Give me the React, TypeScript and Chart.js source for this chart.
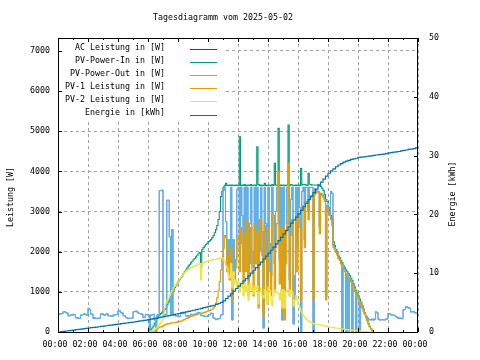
import { useEffect, useRef } from "react";
import { Chart, registerables } from "chart.js";

Chart.register(...registerables);

const FONT_FAMILY = "DejaVu Sans Mono";
const FONT_SIZE = 8.3;
const TITLE = "Tagesdiagramm vom 2025-05-02";
const Y_TITLE = "Leistung [W]";
const Y2_TITLE = "Energie [kWh]";

// power samples every 5 minutes (00:00..24:00), energy samples every 10 minutes
const POWER_STEP_MIN = 5;
const ENERGY_STEP_MIN = 10;
// PV-In / PV-1 / PV-2 are only recorded from 06:00 to 21:00
const PV_START_MIN = 6 * 60;

const xTicks = [0, 2, 4, 6, 8, 10, 12, 14, 16, 18, 20, 22, 24];
const xTickLabels = ["00:00", "02:00", "04:00", "06:00", "08:00", "10:00", "12:00", "14:00", "16:00", "18:00", "20:00", "22:00", "00:00"];
const leftTicks = [0, 1000, 2000, 3000, 4000, 5000, 6000, 7000];
const rightTicks = [0, 10, 20, 30, 40, 50];
const LEFT_MAX = 7320;
const RIGHT_MAX = 50;

const seriesNames = ["AC Leistung in [W]", "PV-Power-In in [W]", "PV-Power-Out in [W]", "PV-1 Leistung in [W]", "PV-2 Leistung in [W]", "Energie in [kWh]"];
const seriesColors = ["#9400d3", "#009e73", "#56b4e9", "#e69f00", "#f0e442", "#0072b2"];

// one row = one hour (12 samples of 5 min)
const acPower = [
  450, 440, 450, 460, 500, 510, 480, 470, 400, 410, 430, 420,
  440, 430, 350, 360, 340, 340, 420, 430, 440, 450, 430, 420,
  590, 560, 450, 440, 340, 350, 340, 340, 340, 350, 450, 460,
  430, 420, 440, 450, 400, 410, 400, 390, 420, 430, 430, 440,
  520, 530, 480, 470, 410, 400, 360, 350, 340, 340, 340, 350,
  500, 510, 520, 500, 470, 460, 450, 440, 360, 370, 440, 430,
  420, 0, 420, 430, 440, 300, 0, 420, 430, 3520, 3520, 3540,
  420, 430, 440, 3280, 3280, 2370, 450, 2550, 440, 420, 400, 410,
  380, 390, 470, 460, 470, 480, 400, 410, 390, 400, 440, 430,
  430, 440, 460, 470, 480, 470, 420, 410, 400, 390, 380, 390,
  420, 430, 470, 460, 350, 340, 310, 320, 330, 340, 420, 430,
  3530, 3600, 2750, 1700, 2300, 1500, 3600, 300, 2300, 1250, 1800, 3550,
  3600, 2100, 3600, 2900, 1500, 3600, 2200, 3600, 1300, 2700, 3600, 2000,
  1600, 3600, 2300, 3600, 1000, 2800, 3600, 2500, 100, 3600, 2700, 1200,
  3600, 2200, 1400, 3600, 2900, 1700, 3000, 3600, 3600, 1800, 3600, 300,
  3600, 700, 2500, 3600, 3600, 1300, 3300, 3600, 200, 1400, 3600, 2100,
  3600, 3100, 0, 3500, 3600, 2300, 3600, 3600, 3000, 3600, 3600, 3600,
  0, 3560, 3530, 3500, 3500, 2620, 3450, 3420, 3380, 3300, 880, 3150,
  3000, 2900, 3500, 3450, 2150, 2100, 2000, 1950, 1850, 1800, 1700, 0,
  1600, 1550, 0, 1450, 0, 1350, 1300, 0, 1150, 1080, 0, 940,
  870, 0, 720, 650, 560, 470, 400, 350, 320, 310, 300, 320,
  300, 320, 500, 480, 320, 300, 300, 310, 300, 300, 320, 330,
  460, 450, 430, 420, 420, 410, 380, 370, 340, 350, 340, 330,
  550, 560, 630, 620, 600, 590, 500, 510, 500, 490, 470, 470,
  470,
];

const pvPowerOut = [
  450, 440, 450, 460, 500, 510, 480, 470, 400, 410, 430, 420,
  440, 430, 350, 360, 340, 340, 420, 430, 440, 450, 430, 420,
  590, 560, 450, 440, 340, 350, 340, 340, 340, 350, 450, 460,
  430, 420, 440, 450, 400, 410, 400, 390, 420, 430, 430, 440,
  520, 530, 480, 470, 410, 400, 360, 350, 340, 340, 340, 350,
  500, 510, 520, 500, 470, 460, 450, 440, 360, 370, 440, 430,
  420, 0, 420, 430, 440, 300, 0, 420, 430, 3520, 3520, 3520,
  420, 430, 440, 3280, 3280, 2370, 450, 2550, 440, 420, 400, 410,
  380, 390, 470, 460, 470, 480, 400, 410, 390, 400, 440, 430,
  430, 440, 460, 470, 480, 470, 420, 410, 400, 390, 380, 390,
  420, 430, 470, 460, 350, 340, 310, 320, 330, 340, 420, 430,
  3530, 3600, 2750, 1700, 2300, 1500, 3600, 300, 2300, 1250, 1800, 3550,
  3600, 2100, 3600, 2900, 1500, 3600, 2200, 3600, 1300, 2700, 3600, 2000,
  1600, 3600, 2300, 3600, 1000, 2800, 3600, 2500, 100, 3600, 2700, 1200,
  3600, 2200, 1400, 3600, 2900, 1700, 3000, 3600, 3600, 1800, 3600, 300,
  3600, 700, 2500, 3600, 3600, 1300, 3300, 3600, 200, 1400, 3600, 2100,
  3600, 3100, 0, 3500, 3600, 2300, 3600, 3600, 3000, 3600, 3600, 3600,
  0, 3560, 3530, 3500, 3500, 2620, 3450, 3420, 3380, 3300, 880, 3150,
  3000, 2900, 3500, 3450, 2150, 2100, 2000, 1950, 1850, 1800, 1700, 0,
  1600, 1550, 0, 1450, 0, 1350, 1300, 0, 1150, 1080, 0, 940,
  870, 0, 720, 650, 560, 470, 400, 350, 320, 310, 300, 320,
  300, 320, 500, 480, 320, 300, 300, 310, 300, 300, 320, 330,
  460, 450, 430, 420, 420, 410, 380, 370, 340, 350, 340, 330,
  550, 560, 630, 620, 600, 590, 500, 510, 500, 490, 470, 470,
  470,
];

// 06:00 .. 21:00
const pvPowerIn = [
  0, 20, 60, 100, 150, 220, 280, 340, 400, 430, 460, 490,
  520, 560, 600, 680, 750, 820, 900, 970, 1040, 1100, 1150, 1200,
  1260, 1300, 1350, 1400, 1450, 1500, 1540, 1590, 1640, 1680, 1720, 1760,
  1800, 1830, 1870, 1910, 1950, 1980, 1620, 2050, 2100, 2140, 2180, 2210,
  2250, 2270, 2300, 2350, 2400, 2470, 2550, 2650, 2800, 3000, 3370, 3500,
  3600, 3650, 3700, 3650, 3640, 3660, 3650, 3660, 3640, 3650, 3660, 3650,
  3650, 4860, 3640, 3660, 3650, 3670, 3640, 3650, 3660, 3650, 3670, 3640,
  3650, 3660, 3640, 4610, 3670, 3650, 3660, 3640, 3650, 3700, 3650, 3640,
  3660, 3650, 3640, 3670, 3650, 4200, 3660, 3650, 5070, 3640, 3660, 3650,
  3660, 3640, 3650, 3660, 5150, 3650, 3670, 3660, 3640, 3650, 3660, 3650,
  3660, 3650, 4070, 3660, 3680, 3670, 3660, 3650, 3950, 3680, 3670, 3660,
  3660, 3660, 3660, 3660, 3670, 3640, 3620, 3580, 3520, 3420, 3300, 3250,
  3100, 3000, 2900, 2800, 2250, 2150, 2050, 2000, 1900, 1850, 1780, 1720,
  1650, 1600, 1550, 1500, 1450, 1400, 1340, 1280, 1200, 1120, 1040, 970,
  900, 820, 740, 660, 570, 480, 390, 300, 210, 140, 80, 40,
  0,
];

const pv1Power = [
  0, 0, 5, 10, 20, 40, 60, 80, 110, 120, 130, 140,
  160, 170, 190, 200, 210, 210, 220, 225, 230, 235, 240, 245,
  255, 260, 270, 280, 300, 310, 330, 345, 360, 375, 390, 400,
  410, 420, 430, 440, 450, 455, 460, 470, 480, 490, 500, 510,
  530, 540, 550, 560, 600, 640, 720, 850, 1040, 1250, 1540, 1800,
  2080, 2400, 2350, 1500, 1900, 1300, 2100, 800, 1500, 1400, 1600, 2300,
  2400, 1500, 2600, 2200, 1100, 2450, 1500, 2800, 900, 1700, 2600, 1500,
  900, 2700, 1700, 2500, 600, 2000, 2800, 1900, 400, 2650, 1900, 700,
  2600, 1500, 900, 2950, 2100, 1000, 2100, 2700, 3990, 1200, 2600, 500,
  2600, 300, 1700, 2700, 4200, 900, 2400, 2800, 700, 800, 2800, 1500,
  2950, 2600, 800, 3050, 3150, 2100, 3200, 3250, 2800, 3300, 3350, 3400,
  800, 3420, 3450, 3480, 3490, 2450, 3450, 3400, 3350, 3250, 800, 3100,
  3000, 2900, 2800, 2650, 2100, 2050, 1980, 1920, 1830, 1780, 1700, 1650,
  1550, 1500, 1450, 1400, 1350, 1300, 1250, 1180, 1100, 1030, 960, 890,
  820, 750, 680, 600, 520, 440, 360, 280, 200, 130, 70, 30,
  0,
];

const pv2Power = [
  0, 0, 10, 20, 40, 60, 90, 120, 160, 200, 240, 280,
  450, 600, 720, 790, 850, 910, 980, 1040, 1100, 1140, 1180, 1220,
  1270, 1320, 1370, 1410, 1450, 1480, 1510, 1540, 1560, 1580, 1600, 1610,
  1630, 1645, 1660, 1675, 1690, 1700, 1300, 1710, 1725, 1740, 1755, 1765,
  1770, 1780, 1790, 1795, 1800, 1805, 1810, 1815, 1830, 1835, 1840, 1845,
  1800, 1750, 1650, 1600, 1400, 1350, 1700, 1100, 1500, 1200, 1300, 1100,
  1250, 1000, 1150, 1250, 900, 1200, 1000, 1150, 800, 1200, 1050, 1100,
  950, 1150, 1050, 1150, 700, 1000, 1100, 900, 850, 1050, 1000, 700,
  1100, 1050, 800, 650, 900, 1050, 1000, 1000, 950, 800, 1050, 600,
  1050, 600, 1000, 1050, 1050, 900, 1050, 1000, 650, 800, 900, 800,
  700, 600, 520, 460, 400, 360, 330, 300, 280, 260, 240, 220,
  200, 195, 190, 185, 180, 175, 170, 165, 160, 150, 145, 140,
  130, 125, 120, 115, 110, 105, 100, 95, 90, 85, 80, 75,
  70, 65, 60, 60, 55, 50, 50, 45, 40, 40, 35, 35,
  30, 30, 25, 25, 20, 15, 10, 10, 5, 0, 0, 0,
  0,
];

// one row = one hour (6 samples of 10 min)
const energyKWh = [
  0, 0.06, 0.11, 0.17, 0.22, 0.28,
  0.33, 0.39, 0.45, 0.5, 0.56, 0.62,
  0.68, 0.73, 0.78, 0.84, 0.89, 0.95,
  1.0, 1.06, 1.12, 1.18, 1.24, 1.3,
  1.35, 1.41, 1.47, 1.53, 1.58, 1.64,
  1.7, 1.77, 1.84, 1.9, 1.97, 2.03,
  2.1, 2.18, 2.27, 2.35, 2.43, 2.52,
  2.6, 2.69, 2.78, 2.88, 2.97, 3.06,
  3.15, 3.24, 3.33, 3.42, 3.52, 3.61,
  3.7, 3.8, 3.91, 4.02, 4.13, 4.24,
  4.35, 4.45, 4.55, 4.7, 4.85, 5.05,
  5.3, 5.7, 6.1, 6.5, 6.95, 7.4,
  7.8, 8.25, 8.7, 9.1, 9.55, 10.0,
  10.5, 10.95, 11.4, 11.9, 12.4, 12.9,
  13.4, 13.9, 14.45, 15.0, 15.55, 16.1,
  16.7, 17.3, 17.9, 18.5, 19.05, 19.55,
  20.1, 20.7, 21.3, 21.9, 22.5, 23.1,
  23.7, 24.3, 24.9, 25.5, 26.0, 26.5,
  27.0, 27.4, 27.75, 28.1, 28.4, 28.65,
  28.9, 29.05, 29.2, 29.35, 29.45, 29.55,
  29.7, 29.75, 29.8, 29.85, 29.9, 29.95,
  30.05, 30.1, 30.15, 30.2, 30.25, 30.35,
  30.45, 30.5, 30.6, 30.65, 30.7, 30.8,
  30.9, 30.95, 31.05, 31.1, 31.2, 31.3,
  31.4,
];

type Series = { values: (number | null)[]; startMin: number; stepMin: number; axis: string; width: number; order: number };

const seriesDefs: Series[] = [
  { values: acPower, startMin: 0, stepMin: POWER_STEP_MIN, axis: "y", width: 0.6, order: 6 },
  { values: pvPowerIn, startMin: PV_START_MIN, stepMin: POWER_STEP_MIN, axis: "y", width: 1.1, order: 5 },
  { values: pvPowerOut, startMin: 0, stepMin: POWER_STEP_MIN, axis: "y", width: 1.2, order: 4 },
  { values: pv1Power, startMin: PV_START_MIN, stepMin: POWER_STEP_MIN, axis: "y", width: 1.2, order: 3 },
  { values: pv2Power, startMin: PV_START_MIN, stepMin: POWER_STEP_MIN, axis: "y", width: 1.2, order: 2 },
  { values: energyKWh, startMin: 0, stepMin: ENERGY_STEP_MIN, axis: "y2", width: 1.2, order: 1 },
];

const setFont = (ctx: CanvasRenderingContext2D) => {
  ctx.font = `${FONT_SIZE}px "${FONT_FAMILY}"`;
};

const decorPlugin = {
  id: "decor",
  afterDatasetsDraw(chart: any) {
    const ctx: CanvasRenderingContext2D = chart.ctx;
    const area = chart.chartArea;
    const xs = chart.scales.x;
    const ys = chart.scales.y;
    const y2s = chart.scales.y2;
    ctx.save();

    // legend (opaque box inside the plot, top left)
    ctx.fillStyle = "#ffffff";
    ctx.fillRect(area.left + 1, area.top + 1, 166, 80);
    setFont(ctx);
    ctx.textAlign = "right";
    ctx.textBaseline = "middle";
    seriesNames.forEach((name, k) => {
      const y = area.top + 11 + k * 13.1;
      ctx.fillStyle = "#000000";
      ctx.fillText(name, 165, y - 1.5);
      ctx.strokeStyle = seriesColors[k];
      ctx.lineWidth = 1;
      ctx.beginPath();
      ctx.moveTo(190, Math.round(y) + 0.5);
      ctx.lineTo(217, Math.round(y) + 0.5);
      ctx.stroke();
    });

    // frame
    ctx.strokeStyle = "#000000";
    ctx.lineWidth = 1;
    ctx.strokeRect(area.left + 0.5, area.top + 0.5, area.right - area.left - 1, area.bottom - area.top);

    // inward tick marks
    ctx.beginPath();
    for (let h = 0; h <= 24; h += 1) {
      const px = Math.round(xs.getPixelForValue(h)) + 0.5;
      const len = h % 2 === 0 ? 4 : 2;
      ctx.moveTo(px, area.bottom);
      ctx.lineTo(px, area.bottom - len);
      ctx.moveTo(px, area.top);
      ctx.lineTo(px, area.top + len);
    }
    leftTicks.forEach((v) => {
      const py = Math.round(ys.getPixelForValue(v)) + 0.5;
      ctx.moveTo(area.left, py);
      ctx.lineTo(area.left + 4, py);
    });
    rightTicks.forEach((v) => {
      const py = Math.round(y2s.getPixelForValue(v)) + 0.5;
      ctx.moveTo(area.right, py);
      ctx.lineTo(area.right - 4, py);
    });
    ctx.stroke();

    // titles
    ctx.fillStyle = "#000000";
    setFont(ctx);
    ctx.textAlign = "center";
    ctx.textBaseline = "middle";
    ctx.fillText(TITLE, 223, 18);
    ctx.save();
    ctx.translate(10.5, 197);
    ctx.rotate(-Math.PI / 2);
    ctx.fillText(Y_TITLE, 0, 0);
    ctx.restore();
    ctx.save();
    ctx.translate(453, 194);
    ctx.rotate(-Math.PI / 2);
    ctx.fillText(Y2_TITLE, 0, 0);
    ctx.restore();
    ctx.restore();
  },
};

export default function App() {
  const canvasRef = useRef<HTMLCanvasElement | null>(null);

  useEffect(() => {
    document.body.style.margin = "0";
    const canvas = canvasRef.current;
    if (!canvas) return;
    const tickFont = { family: FONT_FAMILY, size: FONT_SIZE };

    const datasets = seriesDefs.map((s, k) => ({
      label: seriesNames[k],
      data: s.values.map((v, i) => ({ x: (s.startMin + i * s.stepMin) / 60, y: v })),
      borderColor: seriesColors[k],
      backgroundColor: seriesColors[k],
      borderWidth: s.width,
      pointRadius: 0,
      stepped: true,
      tension: 0,
      fill: false,
      spanGaps: false,
      order: s.order,
      yAxisID: s.axis,
    }));

    const chart = new Chart(canvas, {
      type: "line",
      data: { datasets },
      options: {
        animation: false,
        responsive: false,
        devicePixelRatio: 1,
        layout: { padding: { top: 38, left: 0, right: 0, bottom: 0 } },
        plugins: {
          legend: { display: false },
          title: { display: false },
          tooltip: { enabled: false },
        },
        scales: {
          x: {
            type: "linear",
            min: 0,
            max: 24,
            afterBuildTicks: (s: any) => {
              s.ticks = xTicks.map((v) => ({ value: v }));
            },
            afterFit: (s: any) => {
              s.height = 28;
            },
            grid: { color: "#a0a0a0", lineWidth: 1, drawTicks: false },
            border: { display: false, dash: [3, 3] },
            ticks: {
              autoSkip: false,
              maxRotation: 0,
              padding: 8,
              labelOffset: -3,
              color: "#000000",
              font: tickFont,
              callback: (_v: any, i: number) => xTickLabels[i],
            },
          },
          y: {
            type: "linear",
            position: "left",
            min: 0,
            max: LEFT_MAX,
            afterBuildTicks: (s: any) => {
              s.ticks = leftTicks.map((v) => ({ value: v }));
            },
            afterFit: (s: any) => {
              s.width = 58;
            },
            grid: { color: "#a0a0a0", lineWidth: 1, drawTicks: false },
            border: { display: false, dash: [3, 3] },
            ticks: {
              padding: 8,
              color: "#000000",
              font: tickFont,
              callback: (v: any) => String(v),
            },
          },
          y2: {
            type: "linear",
            position: "right",
            min: 0,
            max: RIGHT_MAX,
            afterBuildTicks: (s: any) => {
              s.ticks = rightTicks.map((v) => ({ value: v }));
            },
            afterFit: (s: any) => {
              s.width = 62;
            },
            grid: { drawOnChartArea: false, drawTicks: false },
            border: { display: false },
            ticks: {
              padding: 11,
              color: "#000000",
              font: tickFont,
              callback: (v: any) => String(v),
            },
          },
        },
      },
      plugins: [decorPlugin],
    } as any);

    return () => {
      chart.destroy();
    };
  }, []);

  return (
    <div style={{ width: 480, height: 360 }}>
      <canvas ref={canvasRef} width={480} height={360} style={{ display: "block" }} />
    </div>
  );
}
